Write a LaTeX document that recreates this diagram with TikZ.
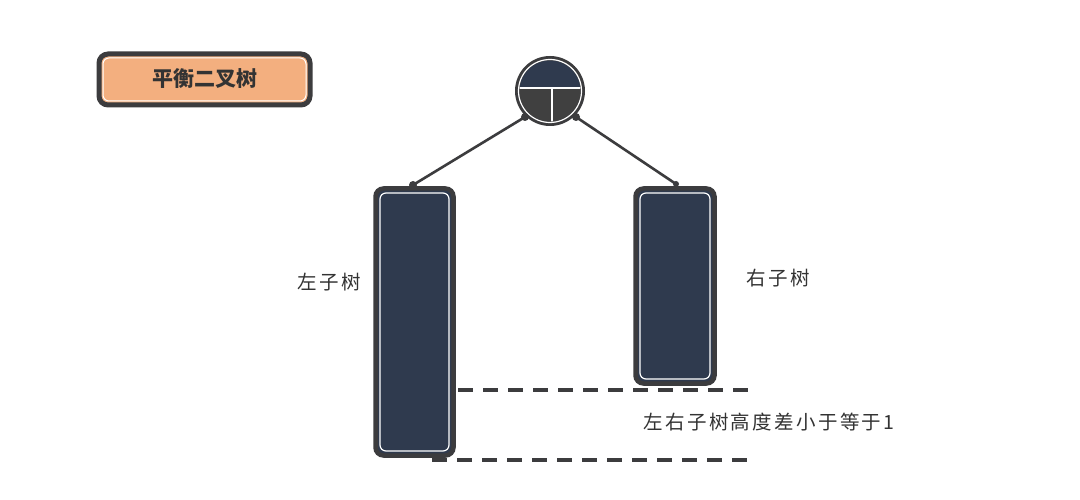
\documentclass[tikz,border=0pt]{standalone}
\usepackage{fontspec}
\setmainfont{Noto Sans CJK SC}
\newfontfamily\cjk{Noto Sans CJK SC}
\newfontfamily\cjksp[LetterSpace=12]{Noto Sans CJK SC}
\begin{document}
\begin{tikzpicture}[x=1pt,y=-1pt,
  card/.style={draw=borderc,line width=4.5pt,rounded corners=8pt,fill=navyc},
  inner/.style={draw=white,line width=1.2pt,rounded corners=6pt},
  lbl/.style={font=\cjksp\fontsize{19.5}{19.5}\selectfont,text=textc},
  dashline/.style={draw=borderc,line width=3.2pt,dash pattern=on 15pt off 10pt},
  link/.style={draw=borderc,line width=2.6pt},
  dotc/.style={circle,fill=borderc,inner sep=0pt,minimum size=8pt}]
\definecolor{navyc}{HTML}{2F3A4E}
\definecolor{borderc}{HTML}{3C3C3E}
\definecolor{greyc}{HTML}{404040}
\definecolor{orangec}{HTML}{F3AF7F}
\definecolor{textc}{HTML}{333333}
\useasboundingbox (0,0) rectangle (1080,500);
\fill[white] (0,0) rectangle (1080,500);
% dashed
\coordinate (a1) at (458,390);
\coordinate (a2) at (748,390);
\coordinate (b1) at (432,460);
\coordinate (b2) at (754,460);
\draw[dashline] (a1) -- (a2);
\draw[dashline] (b1) -- (b2);
% title
\draw[draw=borderc,line width=5pt,rounded corners=9pt,fill=orangec] (99,54) rectangle (310,105);
\draw[white,line width=1pt,rounded corners=6pt] (103,58) rectangle (306,101);
\node[font=\cjk\bfseries\fontsize{21}{21}\selectfont,text=textc] (title) at (205,79) {平衡二叉树};
% root circle
\coordinate (c) at (550,91);
\fill[borderc] (c) circle (35);
\begin{scope}
\clip (c) circle (30.5);
\fill[navyc] (520,50) rectangle (580,88);
\fill[greyc] (520,88) rectangle (580,130);
\draw[white,line width=2pt] (515,88) -- (585,88);
\draw[white,line width=2pt] (552,88) -- (552,130);
\end{scope}
\draw[white,line width=1.2pt] (c) circle (31.5);
\node[circle,minimum size=70pt,inner sep=0pt] (root) at (c) {};
% subtrees
\draw[card] (375.5,188.5) rectangle (453.5,455.5);
\draw[inner] (380,193) rectangle (449,451);
\node[inner sep=0pt,minimum width=83pt,minimum height=272pt] (L) at (414.5,322) {};
\draw[card] (635.5,188.5) rectangle (714.5,383.5);
\draw[inner] (640,193) rectangle (710,379);
\node[inner sep=0pt,minimum width=84pt,minimum height=200pt] (R) at (675,286) {};
% connectors
\node[dotc] (d1) at (525,117) {};
\node[dotc] (d2) at (576,117) {};
\node[dotc] (d3) at (413,185) {};
\node[dotc,minimum size=6pt] (d4) at (676,184) {};
\draw[link] (d1.center) -- (d3.center);
\draw[link] (d2.center) -- (d4.center);
% labels
\node[lbl] (ll) at (329,282) {左子树};
\node[lbl] (rl) at (778,278) {右子树};
\node[lbl,anchor=west] (diff) at (640,422) {左右子树高度差小于等于1};
\end{tikzpicture}
\end{document}
